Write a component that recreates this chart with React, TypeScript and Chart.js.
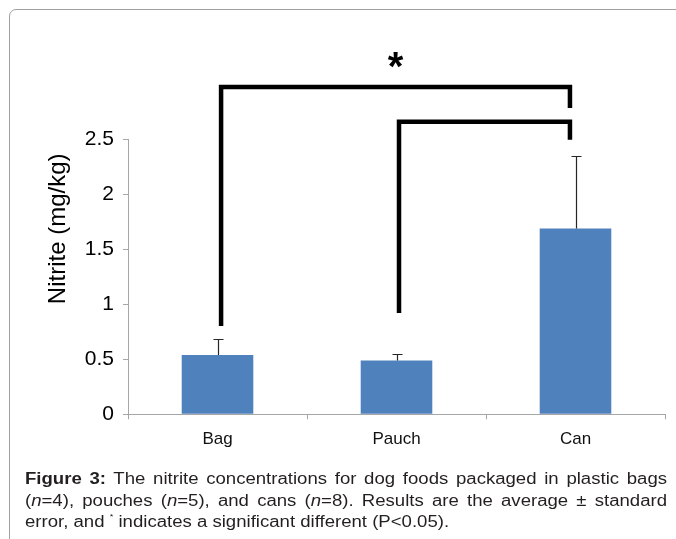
import React, { useEffect, useRef } from "react";
import { Chart, registerables } from "chart.js";

Chart.register(...registerables);

// ---- data ----
const categories = ["Bag", "Pauch", "Can"];
const means = [0.54, 0.49, 1.69];
const stdErrors = [0.145, 0.055, 0.66];
const yTicks = [0, 0.5, 1, 1.5, 2, 2.5];
const yTickLabels = ["0", "0.5", "1", "1.5", "2", "2.5"];
const yTitle = "Nitrite (mg/kg)";

// significance brackets (x in category-index units, y in mg/kg)
const bracketFrom = [0.02, 1.014];
const bracketTo = [1.969, 1.969];
const bracketTop = [2.975, 2.66];
const bracketLeftEnd = [0.803, 0.92];
const bracketRightEnd = [2.785, 2.495];
const bracketLabels = ["*", ""];

const FONT = "'Liberation Sans', Arial, Helvetica, sans-serif";
const AXIS_COLOR = "#a6a6a6";

const overlayPlugin = {
  id: "overlay",
  afterDatasetsDraw(chart: any) {
    const { ctx, chartArea } = chart;
    const x = chart.scales.x;
    const y = chart.scales.y;
    const meta = chart.getDatasetMeta(0);
    ctx.save();

    // error bars (upper only)
    ctx.strokeStyle = "#262626";
    ctx.lineWidth = 1.2;
    meta.data.forEach((bar: any, i: number) => {
      const cx = Math.round(bar.x) + 0.5;
      const y0 = y.getPixelForValue(means[i]);
      const y1 = Math.round(y.getPixelForValue(means[i] + stdErrors[i])) + 0.5;
      ctx.beginPath();
      ctx.moveTo(cx, y0);
      ctx.lineTo(cx, y1);
      ctx.moveTo(cx - 5, y1);
      ctx.lineTo(cx + 5, y1);
      ctx.stroke();
    });

    // significance brackets
    ctx.strokeStyle = "#000";
    ctx.lineWidth = 4.5;
    ctx.lineJoin = "miter";
    ctx.lineCap = "butt";
    for (let i = 0; i < bracketFrom.length; i++) {
      const xl = x.getPixelForValue(bracketFrom[i]);
      const xr = x.getPixelForValue(bracketTo[i]);
      const yt = y.getPixelForValue(bracketTop[i]);
      const yl = y.getPixelForValue(bracketLeftEnd[i]);
      const yr = y.getPixelForValue(bracketRightEnd[i]);
      ctx.beginPath();
      ctx.moveTo(xl, yl);
      ctx.lineTo(xl, yt);
      ctx.lineTo(xr, yt);
      ctx.lineTo(xr, yr);
      ctx.stroke();
      if (bracketLabels[i]) {
        ctx.fillStyle = "#000";
        ctx.font = `bold 40px ${FONT}`;
        ctx.textAlign = "center";
        ctx.textBaseline = "alphabetic";
        ctx.fillText(bracketLabels[i], (xl + xr) / 2, yt - 7);
      }
    }

    // y-axis title
    ctx.fillStyle = "#000";
    ctx.font = `24px ${FONT}`;
    ctx.textAlign = "center";
    ctx.textBaseline = "middle";
    ctx.translate(chartArea.left - 70, (chartArea.top + chartArea.bottom) / 2 - 48);
    ctx.rotate(-Math.PI / 2);
    ctx.fillText(yTitle, 0, 0);
    ctx.restore();
  },
};

export default function App() {
  const canvasRef = useRef<HTMLCanvasElement | null>(null);

  useEffect(() => {
    const canvas = canvasRef.current;
    if (!canvas) return;
    const chart = new Chart(canvas, {
      type: "bar",
      data: {
        labels: categories,
        datasets: [
          {
            data: means,
            backgroundColor: "#4f81bd",
            borderWidth: 0,
            categoryPercentage: 1,
            barPercentage: 0.4,
          },
        ],
      },
      options: {
        responsive: false,
        animation: false,
        events: [],
        layout: { padding: { left: 0, right: 11, top: 139.3, bottom: 84.7 } },
        plugins: { legend: { display: false }, tooltip: { enabled: false } },
        scales: {
          x: {
            afterFit: (s: any) => {
              s.height = 40;
            },
            grid: {
              offset: true,
              drawOnChartArea: false,
              drawTicks: true,
              tickLength: 5,
              color: AXIS_COLOR,
            },
            border: { color: AXIS_COLOR },
            ticks: { padding: 10, color: "#111", font: { family: FONT, size: 17 } },
          },
          y: {
            min: 0,
            max: 2.5,
            afterFit: (s: any) => {
              s.width = 128;
            },
            afterBuildTicks: (s: any) => {
              s.ticks = yTicks.map((v) => ({ value: v }));
            },
            grid: {
              drawOnChartArea: false,
              drawTicks: true,
              tickLength: 5,
              color: AXIS_COLOR,
            },
            border: { color: AXIS_COLOR },
            ticks: {
              padding: 9,
              color: "#000",
              font: { family: FONT, size: 21 },
              callback: (_v: any, i: number) => yTickLabels[i],
            },
          },
        },
      },
      plugins: [overlayPlugin],
    });
    return () => chart.destroy();
  }, []);

  const lineStyle: React.CSSProperties = {
    textAlign: "justify",
    textAlignLast: "justify" as any,
    whiteSpace: "nowrap",
  };

  return (
    <div
      style={{
        position: "absolute",
        left: 0,
        top: 0,
        width: 676,
        height: 539,
        overflow: "hidden",
        background: "#fff",
      }}
    >
      <div
        style={{
          position: "absolute",
          left: 9,
          top: 9,
          width: 800,
          height: 800,
          border: "1px solid #a0a0a0",
          borderRadius: 7,
        }}
      />
      <canvas
        ref={canvasRef}
        width={676}
        height={539}
        style={{ position: "absolute", left: 0, top: 0 }}
      />
      <div
        style={{
          position: "absolute",
          left: 25,
          top: 468,
          width: 553,
          transform: "scale(1.161, 1)",
          transformOrigin: "left top",
          fontFamily: FONT,
          fontSize: 16,
          lineHeight: "21.5px",
          color: "#231f20",
        }}
      >
        <div style={lineStyle}>
          <b>Figure 3:</b> The nitrite concentrations for dog foods packaged in plastic bags
        </div>
        <div style={lineStyle}>
          (<i>n</i>=4), pouches (<i>n</i>=5), and cans (<i>n</i>=8). Results are the average ± standard
        </div>
        <div style={{ textAlign: "left", whiteSpace: "nowrap" }}>
          error, and <sup style={{ fontSize: 8, verticalAlign: "top", lineHeight: "12px" }}>*</sup> indicates a significant different (P&lt;0.05).
        </div>
      </div>
    </div>
  );
}
